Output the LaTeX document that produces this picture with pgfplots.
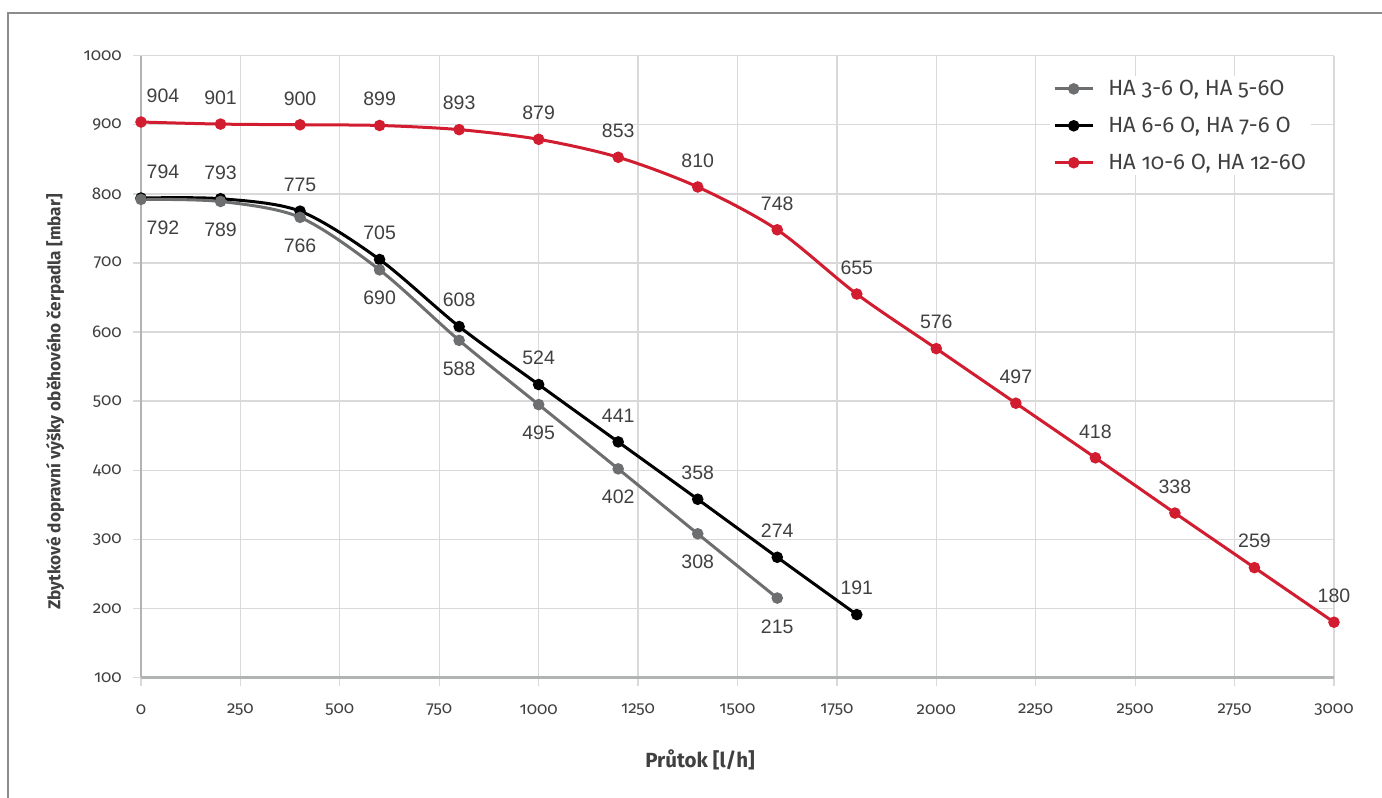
\documentclass[border=0pt]{standalone}
\usepackage{pgfplots}
\pgfplotsset{compat=1.18}
\usepackage{fontspec}
\setmainfont{Fira Sans}[Numbers=OldStyle]
\newfontfamily\lab{Liberation Sans}
\definecolor{sgray}{RGB}{108,110,111}
\definecolor{sred}{RGB}{210,28,48}
\definecolor{txt}{RGB}{64,64,64}
\definecolor{gridc}{RGB}{217,217,217}
\definecolor{axc}{RGB}{178,180,180}
\definecolor{framec}{RGB}{140,140,140}

\pgfplotsset{
  serie/.style={smooth, line width=3pt, mark=*, mark size=4.2pt, mark options={solid}},
  lblup/.style={nodes near coords, every node near coord/.append style={anchor=south, inner sep=0pt, yshift=18pt, text=txt, font=\lab\fontsize{19.5}{19.5}\selectfont},
    coordinate style/.condition={\coordindex==0}{xshift=22pt}},
  lbldown/.style={nodes near coords, every node near coord/.append style={anchor=north, inner sep=0pt, yshift=-20pt, text=txt, font=\lab\fontsize{19.5}{19.5}\selectfont},
    coordinate style/.condition={\coordindex==0}{xshift=22pt}},
}

\begin{document}
\begin{tikzpicture}[x=1pt,y=1pt]
\useasboundingbox (0,0) rectangle (1382,798);
\draw[framec, line width=2pt] (8,0) -- (8,785) -- (1382,785);
\begin{axis}[
  at={(141pt,120.5pt)}, anchor=south west,
  scale only axis, width=1193pt, height=621.8pt,
  xmin=0, xmax=3000, ymin=100, ymax=1000,
  xtick={0,250,...,3000}, ytick={100,200,...,1000},
  axis x line*=bottom, axis y line*=left,
  axis line style={axc, line width=2.5pt},
  grid=major, major grid style={gridc, line width=1.3pt},
  tick style={gridc, line width=1.3pt}, major tick length=8pt, tick align=outside,
  ticklabel style={text=txt, font=\fontsize{17}{17}\selectfont},
  /pgf/number format/1000 sep={}, /pgf/number format/assume math mode=true,
  xticklabel style={anchor=center, yshift=-24pt},
  yticklabel style={anchor=east, inner sep=0pt, xshift=-11pt},
  xlabel={Průtok [l/h]},
  ylabel={Zbytkové dopravní výšky oběhového čerpadla [mbar]},
  label style={text=txt},
  xlabel style={at={(axis description cs:0.4686,-0.1327)}, anchor=center, font=\bfseries\fontsize{20.5}{20.5}\selectfont},
  ylabel style={at={(axis description cs:-0.0721,0.443)}, anchor=center, rotate=0, font=\bfseries\fontsize{17.2}{17.2}\selectfont},
  clip=false,
  legend style={at={(rel axis cs:0.762,0.967)}, anchor=north west, draw=none, fill=white,
    font=\fontsize{22}{22}\selectfont, text=txt, row sep=16pt, column sep=12pt, cells={anchor=west}},
  legend image code/.code={\draw[#1, mark repeat=2, mark phase=2] plot coordinates {(0pt,0pt) (19pt,0pt) (38pt,0pt)};},
]
\addlegendimage{sgray, serie}
\addlegendentry{HA 3-6 O, HA 5-6O}
\addlegendimage{black, serie}
\addlegendentry{HA 6-6 O, HA 7-6 O}
\addlegendimage{sred, serie}
\addlegendentry{HA 10-6 O, HA 12-6O}

% HA 10-6 O, HA 12-6 O
\addplot[sred, serie, lblup, forget plot] coordinates {
  (0,904) (200,901) (400,900) (600,899) (800,893) (1000,879) (1200,853) (1400,810)
  (1600,748) (1800,655) (2000,576) (2200,497) (2400,418) (2600,338) (2800,259) (3000,180)};
% HA 6-6 O, HA 7-6 O
\addplot[black, serie, lblup, forget plot] coordinates {
  (0,794) (200,793) (400,775) (600,705) (800,608) (1000,524) (1200,441) (1400,358)
  (1600,274) (1800,191)};
% HA 3-6 O, HA 5-6 O
\addplot[sgray, serie, lbldown, forget plot] coordinates {
  (0,792) (200,789) (400,766) (600,690) (800,588) (1000,495) (1200,402) (1400,308)
  (1600,215)};
\end{axis}
\end{tikzpicture}
\end{document}
